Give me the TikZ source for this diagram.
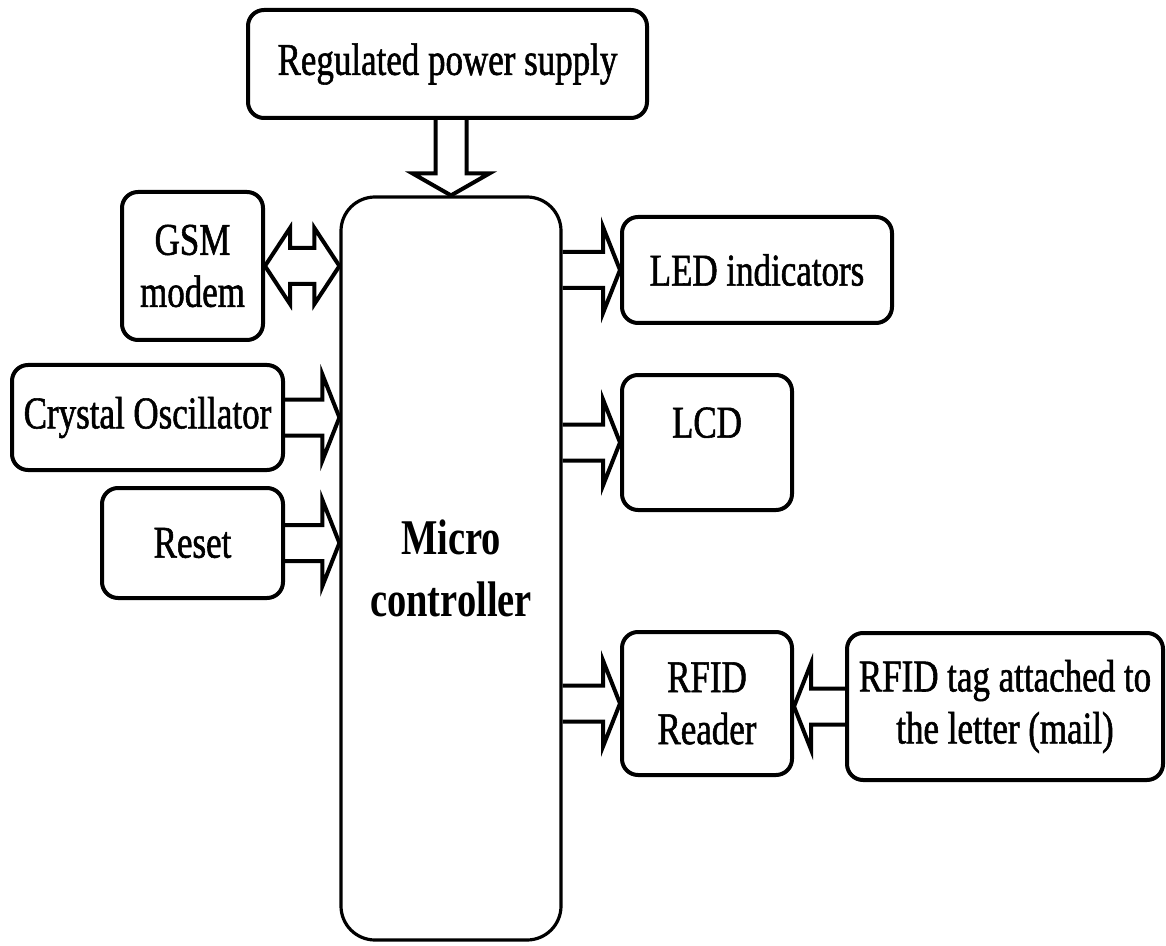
\documentclass[tikz,border=0pt]{standalone}
\usepackage{fontspec}
\setmainfont{Liberation Serif}[FakeStretch=0.77]
\newfontfamily\boxfont{Liberation Serif}[FakeStretch=0.77,FakeBold=1.2]
\usepackage{tikz}
\usetikzlibrary{
  calc,
  positioning
}
\tikzset{
  blk/.style={draw=black,line width=2pt,rounded corners=8pt,
    align=center,inner sep=2pt,font=\boxfont\fontsize{22.7}{26}\selectfont},
  core/.style={draw=black,line width=1.6pt,rounded corners=17pt,
    align=center,inner sep=2pt,font=\bfseries\fontsize{25}{31}\selectfont},
  fatline/.style={draw=black,line width=2pt,line join=miter},
  fatshaft/.store in=\fatshaft, fatshaft=9pt,
  fathead/.store in=\fathead, fathead=21.5pt,
  fatlen/.store in=\fatlen, fatlen=8.5pt
}
% hollow block arrow, from #2 to #3
\newcommand{\fatarrow}[3][]{%
  \begin{scope}[#1]
    \coordinate (fa-b) at ($(#3)!\fatlen!(#2)$);
    \draw[fatline] ($(#2)!\fatshaft!90:(#3)$) -- ($(fa-b)!\fatshaft!90:(#3)$)
      -- ($(fa-b)!\fathead!90:(#3)$) -- (#3) -- ($(fa-b)!\fathead!-90:(#3)$)
      -- ($(fa-b)!\fatshaft!-90:(#3)$) -- ($(#2)!\fatshaft!-90:(#3)$);
  \end{scope}}
% hollow block arrow with two heads
\newcommand{\fatdarrow}[3][]{%
  \begin{scope}[#1]
    \coordinate (fa-a) at ($(#2)!\fatlen!(#3)$);
    \coordinate (fa-b) at ($(#3)!\fatlen!(#2)$);
    \draw[fatline] (#2) -- ($(fa-a)!\fathead!90:(#3)$) -- ($(fa-a)!\fatshaft!90:(#3)$)
      -- ($(fa-b)!\fatshaft!-90:(#2)$) -- ($(fa-b)!\fathead!-90:(#2)$) -- (#3)
      -- ($(fa-b)!\fathead!90:(#2)$) -- ($(fa-b)!\fatshaft!90:(#2)$)
      -- ($(fa-a)!\fatshaft!-90:(#3)$) -- ($(fa-a)!\fathead!-90:(#3)$) -- cycle;
  \end{scope}}

\begin{document}
\begin{tikzpicture}[x=0.5pt,y=-0.5pt]
  \useasboundingbox (0,0) rectangle (1166,946);
  \node[blk,minimum width=199.5pt,minimum height=54pt] (psu) at (447.5,64) {Regulated power supply};
  \node[core,minimum width=110pt,minimum height=371.5pt] (mc) at (451,568.5) {Micro\\controller};
  \node[blk,minimum width=70.5pt,minimum height=74pt] (gsm) at (192.5,266) {GSM\\modem};
  \node[blk,minimum width=135.5pt,minimum height=52.5pt] (xtal) at (147.5,417.5) {Crystal Oscillator};
  \node[blk,minimum width=90.5pt,minimum height=55pt] (reset) at (192.5,543) {Reset};
  \node[blk,minimum width=135pt,minimum height=53pt] (led) at (757,270) {LED indicators};
  \node[blk,minimum width=85pt,minimum height=67.5pt,text depth=20pt] (lcd) at (707,442.5) {LCD};
  \node[blk,minimum width=85pt,minimum height=71.5pt] (reader) at (707,703.5) {RFID\\Reader};
  \node[blk,minimum width=158pt,minimum height=73.5pt] (tag) at (1005,706.5) {RFID tag attached to\\the letter (mail)};
  \fatarrow[fatshaft=7.75pt,fathead=19.25pt,fatlen=11pt]{mc.north |- psu.south}{mc.north}
  \fatdarrow[fathead=19pt,fatlen=12.5pt]{gsm.east}{gsm.east -| mc.west}
  \fatarrow{xtal.east}{xtal.east -| mc.west}
  \fatarrow{reset.east}{reset.east -| mc.west}
  \fatarrow{led.west -| mc.east}{led.west}
  \fatarrow{lcd.west -| mc.east}{lcd.west}
  \fatarrow{reader.west -| mc.east}{reader.west}
  \fatarrow{tag.west}{tag.west -| reader.east}
\end{tikzpicture}
\end{document}
